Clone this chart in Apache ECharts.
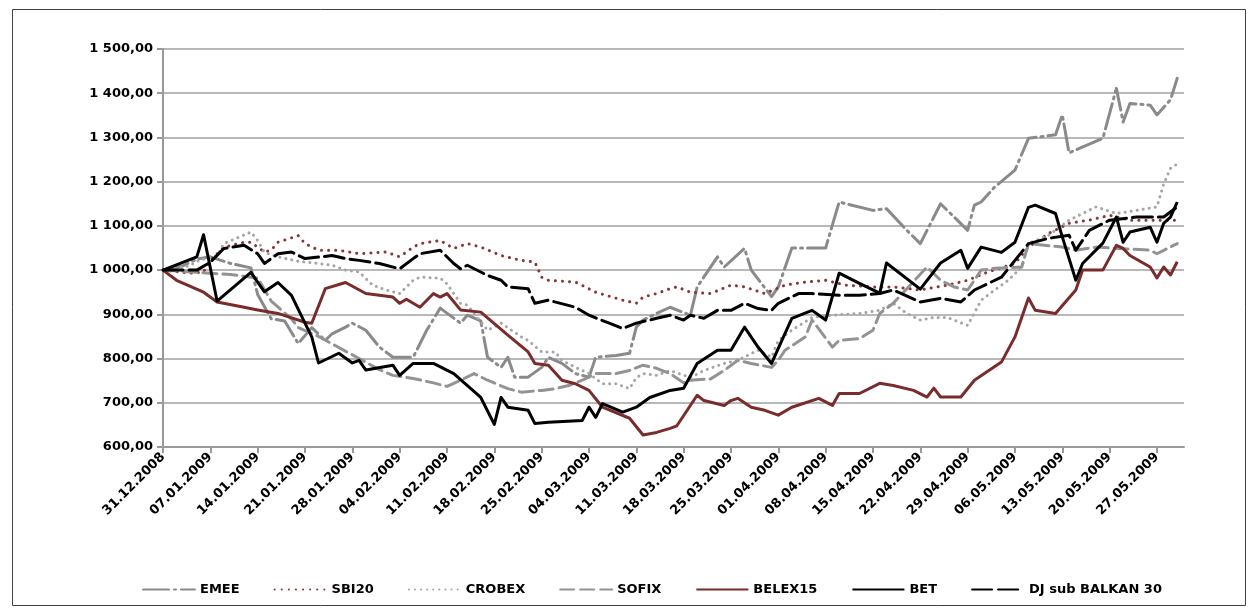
<!DOCTYPE html>
<html>
<head>
<meta charset="utf-8">
<script src="https://cdn.jsdelivr.net/npm/echarts@6/dist/echarts.min.js"></script>
<style>
  html, body { margin: 0; padding: 0; background: #fff; }
  #chart { width: 1254px; height: 611px; }
</style>
</head>
<body>
<div id="chart"></div>
<script>
// x = days since 31.12.2008, y = index value
const dateLabels = ['31.12.2008', '07.01.2009', '14.01.2009', '21.01.2009', '28.01.2009', '04.02.2009',
  '11.02.2009', '18.02.2009', '25.02.2009', '04.03.2009', '11.03.2009', '18.03.2009', '25.03.2009',
  '01.04.2009', '08.04.2009', '15.04.2009', '22.04.2009', '29.04.2009', '06.05.2009', '13.05.2009',
  '20.05.2009', '27.05.2009']
const tickDays = dateLabels.map((d, i) => i * 7)

const emee = [[0,1000],[3,1010],[5,1025],[7,1030],[10,1015],[13,1005],[14,945],[16,890],[18,885],[20,834],
  [22,870],[24,841],[25,856],[27,871],[28,880],[30,864],[32,826],[34,803],[37,803],[39,864],[41,914],
  [44,880],[45,898],[47,885],[48,803],[50,780],[51,803],[52,758],[54,758],[56,780],[57,803],[59,789],
  [61,766],[63,758],[64,803],[67,807],[69,812],[70,871],[71,887],[73,902],[75,916],[78,898],[79,962],
  [82,1030],[83,1007],[86,1049],[87,1000],[90,940],[91,962],[93,1050],[98,1050],[100,1154],[105,1135],
  [107,1139],[110,1090],[112,1060],[115,1150],[119,1090],[120,1147],[121,1154],[123,1188],[126,1226],
  [128,1298],[132,1306],[133,1351],[134,1265],[139,1298],[141,1411],[142,1335],[143,1377],[146,1373],
  [147,1351],[149,1385],[150,1434]]

const sbi20 = [[0,1000],[4,993],[6,996],[7,1022],[9,1052],[12,1063],[13,1063],[15,1041],[16,1045],[17,1063],
  [20,1078],[21,1060],[23,1045],[26,1045],[29,1037],[33,1041],[35,1030],[37,1052],[38,1060],[41,1067],
  [43,1049],[45,1060],[47,1052],[50,1033],[53,1022],[55,1018],[56,984],[57,977],[61,973],[64,950],
  [68,932],[70,925],[71,939],[73,947],[75,958],[76,962],[78,950],[81,947],[84,966],[86,962],[89,947],
  [92,966],[95,973],[98,977],[101,966],[105,962],[108,962],[112,955],[116,966],[119,977],[122,996],
  [126,1015],[128,1052],[131,1083],[134,1106],[137,1113],[140,1124],[143,1113],[147,1113],[150,1113]]

const crobex = [[0,1000],[4,1010],[5,1020],[8,1033],[9,1060],[13,1086],[14,1067],[15,1040],[17,1030],
  [20,1020],[23,1015],[25,1011],[27,1000],[29,996],[31,966],[33,955],[35,947],[37,977],[38,984],[41,982],
  [42,969],[44,925],[45,921],[46,902],[48,864],[50,880],[53,849],[54,841],[56,815],[58,815],[59,796],
  [61,780],[63,766],[65,743],[67,743],[69,732],[70,757],[71,766],[73,762],[75,773],[78,757],[80,773],
  [83,789],[85,796],[88,819],[90,803],[91,841],[93,864],[96,893],[99,898],[103,902],[106,909],[108,925],
  [110,902],[112,887],[114,893],[116,893],[119,875],[121,932],[123,955],[125,977],[127,1007],[128,1060],
  [131,1079],[134,1113],[138,1143],[141,1128],[144,1135],[147,1143],[148,1195],[149,1230],[150,1240]]

const sofix = [[0,1000],[5,995],[10,990],[14,982],[16,930],[19,890],[20,870],[23,850],[26,825],[29,800],
  [32,775],[34,762],[37,755],[40,745],[42,737],[44,751],[46,766],[48,751],[51,732],[53,724],[56,728],
  [58,732],[60,739],[62,751],[64,766],[67,766],[69,773],[71,785],[73,778],[75,766],[77,745],[78,751],
  [81,754],[83,773],[85,796],[87,789],[90,780],[91,796],[92,819],[95,849],[96,887],[99,826],[100,841],
  [103,845],[105,864],[106,902],[108,925],[113,1007],[115,977],[117,962],[119,955],[120,977],[121,1000],
  [123,1004],[127,1007],[128,1060],[133,1052],[135,1045],[138,1052],[146,1045],[147,1037],[150,1060]]

const belex15 = [[0,1000],[2,977],[6,950],[8,928],[12,916],[14,910],[17,902],[21,882],[22,880],[24,958],
  [27,972],[30,947],[34,939],[35,925],[36,934],[38,916],[40,947],[41,939],[42,947],[44,910],[47,905],
  [51,853],[54,815],[55,789],[57,785],[59,751],[61,743],[63,728],[65,690],[69,665],[71,627],[73,633],
  [75,642],[76,648],[79,717],[80,705],[83,694],[84,705],[85,710],[87,690],[89,683],[91,672],[93,690],
  [97,710],[99,694],[100,721],[103,721],[106,744],[108,739],[111,728],[113,713],[114,733],[115,713],
  [118,713],[120,751],[124,792],[126,849],[128,937],[129,909],[132,902],[135,955],[136,1000],[139,1000],
  [141,1056],[142,1049],[143,1033],[146,1007],[147,982],[148,1007],[149,989],[150,1019]]

const bet = [[0,1000],[5,1030],[6,1080],[8,930],[13,995],[15,951],[17,972],[19,943],[21,880],[22,849],
  [23,790],[26,812],[28,790],[29,796],[30,774],[34,785],[35,762],[37,789],[40,789],[43,766],[47,712],
  [49,651],[50,712],[51,690],[54,683],[55,653],[57,656],[62,660],[63,690],[64,667],[65,698],[68,679],
  [70,690],[72,712],[75,728],[77,733],[79,789],[82,819],[84,819],[86,871],[88,826],[90,789],[93,891],
  [96,909],[98,887],[100,993],[103,970],[106,948],[107,1016],[112,957],[115,1016],[118,1045],[119,1004],
  [121,1052],[124,1040],[126,1063],[128,1142],[129,1147],[132,1128],[133,1075],[135,977],[136,1015],
  [139,1061],[141,1120],[142,1063],[143,1086],[146,1097],[147,1063],[148,1106],[149,1120],[150,1154]]

const djBalkan = [[0,1000],[5,1000],[7,1018],[9,1049],[12,1056],[14,1037],[15,1015],[17,1037],[19,1041],
  [21,1026],[25,1033],[27,1026],[29,1022],[32,1015],[35,1003],[37,1026],[38,1037],[41,1045],[43,1015],
  [44,1003],[45,1011],[48,988],[50,977],[51,962],[54,958],[55,925],[57,932],[61,916],[63,898],[66,880],
  [68,868],[70,880],[73,891],[75,898],[77,887],[78,898],[80,891],[82,909],[84,909],[86,925],[88,913],
  [90,909],[91,925],[94,947],[96,947],[100,943],[103,943],[106,947],[108,955],[112,928],[115,936],
  [118,928],[120,955],[124,984],[128,1060],[131,1072],[134,1079],[135,1045],[137,1090],[140,1113],
  [144,1120],[148,1120],[150,1143]]

const FONT = 'DejaVu Sans'

function fmtNum(v) {
  const parts = v.toFixed(2).split('.')
  return parts[0].replace(/\B(?=(\d{3})+(?!\d))/g, ' ') + ',' + parts[1]
}

function line(name, data, color, type) {
  return {
    name: name,
    type: 'line',
    data: data,
    symbol: 'none',
    showSymbol: false,
    lineStyle: { color: color, width: 3, type: type, cap: type === 'solid' ? 'butt' : 'round', join: 'round' },
    itemStyle: { color: color },
    emphasis: { disabled: true }
  }
}

const chart = echarts.init(document.getElementById('chart'))
chart.setOption({
  animation: false,
  graphic: [{
    type: 'rect',
    shape: { x: 12.5, y: 9.5, width: 1233, height: 596 },
    style: { fill: 'none', stroke: '#404040', lineWidth: 1 },
    silent: true
  }],
  grid: { left: 163, right: 70, top: 49, bottom: 164 },
  legend: {
    left: 137,
    top: 578,
    itemWidth: 52,
    itemHeight: 14,
    itemGap: 34,
    itemStyle: { opacity: 0 },
    textStyle: { fontFamily: FONT, fontWeight: 'bold', fontSize: 13, color: '#000' },
    data: ['EMEE', 'SBI20', 'CROBEX', 'SOFIX', 'BELEX15', 'BET', 'DJ sub BALKAN 30']
  },
  xAxis: {
    type: 'value',
    min: 0,
    max: 151,
    interval: 7,
    axisLine: { show: true, lineStyle: { color: '#999', width: 2 } },
    axisTick: { show: true, length: 6, lineStyle: { color: '#999', width: 2 }, customValues: tickDays },
    splitLine: { show: false },
    axisLabel: {
      rotate: 45,
      margin: 8,
      customValues: tickDays,
      fontFamily: FONT,
      fontWeight: 'bold',
      fontSize: 13,
      color: '#000',
      formatter: v => dateLabels[Math.round(v / 7)] || ''
    }
  },
  yAxis: {
    type: 'value',
    min: 600,
    max: 1500,
    interval: 100,
    axisLine: { show: true, lineStyle: { color: '#999', width: 2 } },
    axisTick: { show: true, length: 6, lineStyle: { color: '#999', width: 2 } },
    splitLine: { show: true, lineStyle: { color: '#a0a0a0', width: 1.5 } },
    axisLabel: {
      margin: 10,
      fontFamily: FONT,
      fontWeight: 'bold',
      fontSize: 13,
      color: '#000',
      formatter: v => fmtNum(v)
    }
  },
  series: [
    line('EMEE', emee, '#8a8a8a', [26, 5, 2, 5]),
    line('SBI20', sbi20, '#8b3636', [0.1, 7]),
    line('CROBEX', crobex, '#a6a6a6', [0.1, 6]),
    line('SOFIX', sofix, '#939393', [14, 6]),
    line('BELEX15', belex15, '#7a2b2b', 'solid'),
    line('BET', bet, '#000000', 'solid'),
    line('DJ sub BALKAN 30', djBalkan, '#000000', [20, 6])
  ]
})
</script>
</body>
</html>
